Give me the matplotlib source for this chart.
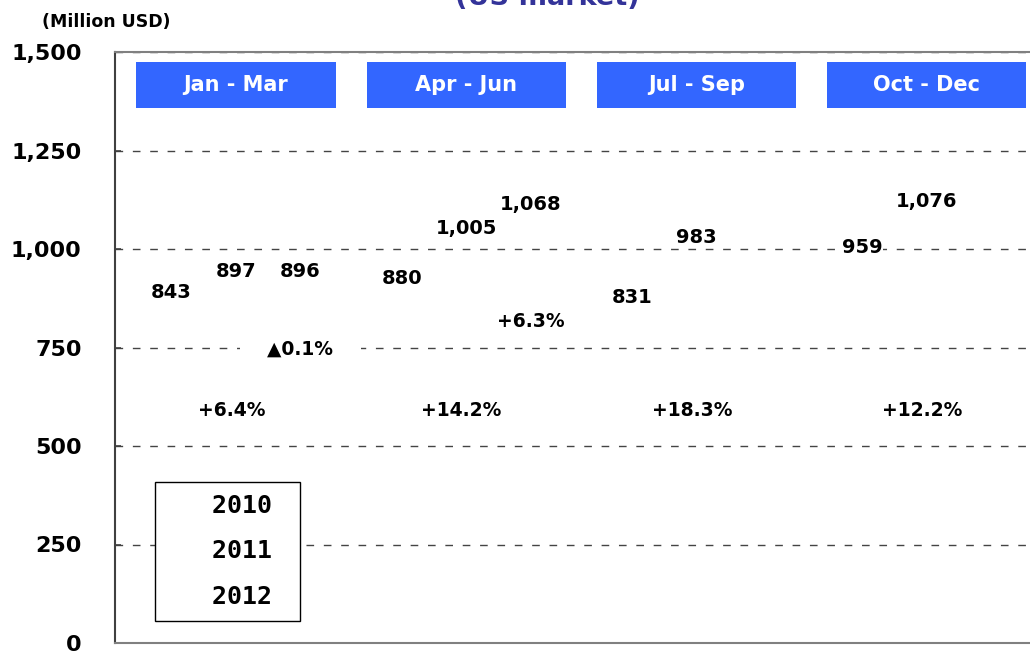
import numpy as np
import matplotlib
matplotlib.use("Agg")
import matplotlib.pyplot as plt
from matplotlib.patches import Rectangle

# ---- data ----
quarters = ["Jan - Mar", "Apr - Jun", "Jul - Sep", "Oct - Dec"]
years = ["2010", "2011", "2012"]
sales_2010 = [843, 880, 831, 959]
sales_2011 = [897, 1005, 983, 1076]
sales_2012 = [896, 1068, np.nan, np.nan]
yticks = [0, 250, 500, 750, 1000, 1250, 1500]

# ---- layout constants ----
W, H = 1030, 657
fig = plt.figure(figsize=(W / 100, H / 100), dpi=100)
ax = fig.add_axes([115 / W, 14 / H, 927 / W, 591 / H])

FONT = "DejaVu Sans"
x = np.arange(len(quarters))
bw = 0.28
series = [sales_2010, sales_2011, sales_2012]
offsets = [-bw, 0, bw]
containers = []
for vals, off, yr in zip(series, offsets, years):
    c = ax.bar(x + off, vals, width=bw, color="white", edgecolor="none", label=yr, zorder=0.2)
    containers.append(c)
    for xi, v in zip(x + off, vals):
        if np.isnan(v):
            continue
        ax.annotate(f"{v:,.0f}", (xi, v), xytext=(0, 13), textcoords="offset points",
                    ha="center", va="center", fontsize=14, fontweight="bold", family=FONT,
                    bbox=dict(boxstyle="square,pad=0", fc="white", ec="none"), zorder=4)

def fmt_growth(new, old):
    g = (new / old - 1) * 100
    return f"+{g:.1f}%" if g >= 0 else f"\u25b2{abs(g):.1f}%"

# growth 2011 vs 2010 (label at group centre)
growth_y_11 = 590
for xi, a, b in zip(x, sales_2010, sales_2011):
    ax.text(xi - 0.02, growth_y_11, fmt_growth(b, a), ha="center", va="center", fontsize=13.5,
            fontweight="bold", family=FONT,
            bbox=dict(boxstyle="square,pad=0.1", fc="white", ec="none"), zorder=4)
# growth 2012 vs 2011 (label at 2012 bar)
growth_y_12 = [746, 815]
for xi, a, b, gy in zip(x, sales_2011, sales_2012, growth_y_12):
    if np.isnan(b):
        continue
    ax.text(xi + bw, gy, "    " + fmt_growth(b, a) + "    ", ha="center", va="center", fontsize=13.5,
            fontweight="bold", family=FONT,
            bbox=dict(boxstyle="square,pad=0.1", fc="white", ec="none"), zorder=4)

# header boxes
hdr_w = 0.865
for xi, q in zip(x, quarters):
    ax.add_patch(Rectangle((xi - hdr_w / 2, 1358), hdr_w, 117, facecolor="#3366FF",
                           edgecolor="none", zorder=5))
    ax.text(xi, 1416, q, ha="center", va="center", color="white", fontsize=15,
            fontweight="bold", family=FONT, zorder=6)

ax.set_xlim(-0.525, 3.5)
ax.set_ylim(0, 1500)
ax.set_xticks([])
ax.set_yticks(yticks)
ax.set_yticklabels([f"{t:,}" for t in yticks], fontsize=16, fontweight="bold", family=FONT)
ax.tick_params(axis="y", direction="in", length=4, width=1.2, color="#404040", pad=24)
ax.grid(axis="y", linestyle=(0, (5.5, 7)), color="#444444", linewidth=1)
ax.set_axisbelow(True)
for s in ["left"]:
    ax.spines[s].set_color("#404040")
    ax.spines[s].set_linewidth(1.5)
for s in ["top", "bottom", "right"]:
    ax.spines[s].set_color("#808080")
    ax.spines[s].set_linewidth(1.5)

leg = ax.legend(handles=containers, labels=[y + " " for y in years], loc="lower left",
                bbox_to_anchor=(40 / 927, 22 / 591), borderaxespad=0,
                prop=dict(family="DejaVu Sans Mono", weight="bold", size=18),
                handlelength=1.2, handletextpad=0.6, borderpad=0.5, labelspacing=0.85,
                fancybox=False, frameon=True, framealpha=1)
leg.get_frame().set_edgecolor("black")
leg.get_frame().set_facecolor("white")
leg.get_frame().set_linewidth(1.0)
leg.set_zorder(7)

fig.text(106 / W, 1 - 22 / H, "(Million USD)", ha="center", va="center", fontsize=12.5,
         fontweight="bold", family=FONT)
fig.text(547 / W, 1 - 5 / H, "(US market)", ha="center", va="baseline", fontsize=19.5,
         fontweight="bold", family=FONT, color="#333399")

fig.savefig("out.png", dpi=100)
